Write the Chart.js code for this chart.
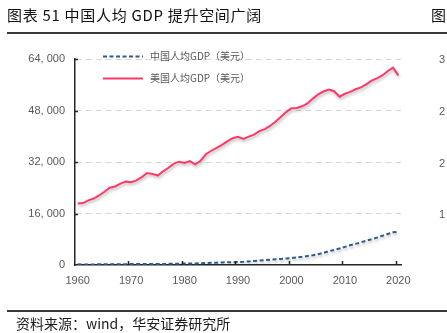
<!DOCTYPE html>
<html>
<head>
<meta charset="utf-8">
<script src="https://cdn.jsdelivr.net/npm/chart.js@4"></script>
<style>
  html, body { margin: 0; padding: 0; background: #fff; }
  #wrap { position: relative; width: 447px; height: 333px; overflow: hidden; }
  #c { position: absolute; left: 0; top: 0; }
  .txt { position: absolute; white-space: nowrap; font-family: "Noto Sans CJK SC", sans-serif; }
  #title { left: 7px; top: 5px; font-size: 15px; line-height: 20px; color: #111; font-weight: 400; letter-spacing: 0.7px; }
  #titleR { left: 431px; top: 5px; font-size: 15px; line-height: 20px; color: #111; font-weight: 400; }
  .rule { position: absolute; left: 7px; width: 440px; height: 1.5px; background: #3a3a3a; }
  #source { left: 16px; top: 314px; font-size: 14px; line-height: 18px; color: #1a1a1a; letter-spacing: 0px; }
  .side { position: absolute; left: 439px; font-family: "Liberation Sans", Arial, sans-serif; font-size: 11px; color: #595959; line-height: 12px; }
</style>
</head>
<body>
<div id="wrap">
  <canvas id="c" width="447" height="333"></canvas>
  <div class="txt" id="title">图表 51 中国人均 GDP 提升空间广阔</div>
  <div class="txt" id="titleR">图</div>
  <div class="rule" style="top:32px"></div>
  <div class="rule" style="top:310px"></div>
  <div class="txt" id="source">资料来源：wind，华安证券研究所</div>
  <div class="side" style="top:53px">3</div>
  <div class="side" style="top:105px">2</div>
  <div class="side" style="top:157px">2</div>
  <div class="side" style="top:208px">1</div>
</div>
<script>
// Per-capita GDP, US dollars, 1960-2020
const years = [
  1960,1961,1962,1963,1964,1965,1966,1967,1968,1969,
  1970,1971,1972,1973,1974,1975,1976,1977,1978,1979,
  1980,1981,1982,1983,1984,1985,1986,1987,1988,1989,
  1990,1991,1992,1993,1994,1995,1996,1997,1998,1999,
  2000,2001,2002,2003,2004,2005,2006,2007,2008,2009,
  2010,2011,2012,2013,2014,2015,2016,2017,2018,2019,
  2020
];
const chinaGdp = [
  238,173,164,178,204,233,252,231,214,244,
  285,297,301,319,321,340,330,349,384,408,
  434,450,483,528,600,672,721,793,868,889,
  909,979,1103,1239,1383,1516,1650,1784,1902,2027,
  2182,2345,2542,2779,3041,3366,3772,4290,4686,5104,
  5621,6126,6569,7044,7525,8016,8516,9053,9617,10144,
  10358
];
const usGdp = [
  19100,19250,20100,20650,21600,22750,24000,24400,25300,25900,
  25700,26300,27300,28600,28300,27800,29100,30200,31500,32100,
  31700,32300,31300,32400,34400,35500,36400,37300,38400,39400,
  39800,39200,39900,40500,41600,42200,43200,44500,46000,47500,
  48700,48800,49300,50200,51700,53000,53900,54500,54000,52300,
  53200,53800,54600,55200,56100,57300,58000,58900,60200,61300,
  58900
];
const yTickLabels = ['0', '16, 000', '32, 000', '48, 000', '64, 000'];
const seriesNames = ['中国人均GDP（美元）', '美国人均GDP（美元）'];

const CN_COLOR = '#2d5b8c';
const US_COLOR = '#ff3868';

// soft drop shadow under each line
const lineShadow = {
  id: 'lineShadow',
  beforeDatasetDraw(chart) {
    const ctx = chart.ctx;
    ctx.save();
    ctx.shadowColor = 'rgba(0,0,0,0.28)';
    ctx.shadowBlur = 3;
    ctx.shadowOffsetX = 1;
    ctx.shadowOffsetY = 2;
  },
  afterDatasetDraw(chart) {
    chart.ctx.restore();
  }
};

// short tick marks on the inner side of both axes
const innerTicks = {
  id: 'innerTicks',
  afterDraw(chart) {
    const { ctx, chartArea, scales } = chart;
    const xs = scales.x, ys = scales.y;
    ctx.save();
    ctx.strokeStyle = '#262626';
    ctx.lineWidth = 1.5;
    ctx.beginPath();
    years.forEach((yr, i) => {
      if (yr % 10 === 0 && i > 0) {
        const px = Math.round(xs.getPixelForValue(i) - xs.width / years.length / 2) + 0.5;
        ctx.moveTo(px, chartArea.bottom);
        ctx.lineTo(px, chartArea.bottom - 4);
      }
    });
    ys.ticks.forEach(t => {
      if (t.value === 0) return;
      const py = Math.round(ys.getPixelForValue(t.value)) + 0.5;
      ctx.moveTo(chartArea.left - 1, py);
      ctx.lineTo(chartArea.left + 3, py);
    });
    ctx.stroke();
    ctx.restore();
  }
};

// legend drawn inside the plot area
const innerLegend = {
  id: 'innerLegend',
  afterDraw(chart) {
    const ctx = chart.ctx;
    const rows = [56, 78];
    ctx.save();
    chart.data.datasets.forEach((ds, i) => {
      const y = rows[i] + 0.5;
      ctx.beginPath();
      ctx.strokeStyle = ds.borderColor;
      ctx.lineWidth = 2;
      ctx.setLineDash(ds.borderDash || []);
      ctx.moveTo(103, y);
      ctx.lineTo(143, y);
      ctx.stroke();
      ctx.setLineDash([]);
      ctx.fillStyle = '#595959';
      ctx.font = '10px "Noto Sans CJK SC", sans-serif';
      ctx.textBaseline = 'middle';
      ctx.fillText(ds.label, 150, y);
    });
    ctx.restore();
  }
};

new Chart(document.getElementById('c'), {
  type: 'line',
  data: {
    labels: years.map(String),
    datasets: [
      {
        label: seriesNames[0],
        data: chinaGdp,
        borderColor: CN_COLOR,
        borderWidth: 2,
        borderDash: [4, 2.5],
        pointRadius: 0,
        tension: 0,
        fill: false
      },
      {
        label: seriesNames[1],
        data: usGdp,
        borderColor: US_COLOR,
        borderWidth: 2,
        pointRadius: 0,
        tension: 0,
        fill: false
      }
    ]
  },
  options: {
    responsive: false,
    animation: false,
    devicePixelRatio: 1,
    layout: { padding: { left: 0, top: 59, right: 46, bottom: 0 } },
    plugins: {
      legend: { display: false },
      tooltip: { enabled: false }
    },
    scales: {
      x: {
        type: 'category',
        offset: true,
        grid: { color: 'rgba(0,0,0,0)', drawTicks: false, offset: true },
        border: { color: '#262626', width: 1.5 },
        ticks: {
          autoSkip: false,
          maxRotation: 0,
          padding: 9,
          color: '#595959',
          font: { family: '"Liberation Sans", Arial, sans-serif', size: 11 },
          callback(value, index) {
            const yr = years[index];
            return yr % 10 === 0 ? String(yr) : '';
          }
        },
        afterFit(scale) { scale.height = 68; }
      },
      y: {
        min: 0,
        max: 64000,
        grid: {
          drawTicks: false,
          color: ctx => (ctx.tick && ctx.tick.value === 0) ? 'rgba(0,0,0,0)' : '#d6d6d6',
          lineWidth: 1
        },
        border: { color: '#262626', width: 1.5, dash: [6, 4] },
        ticks: {
          stepSize: 16000,
          padding: 10,
          color: '#595959',
          font: { family: '"Liberation Sans", Arial, sans-serif', size: 11 },
          callback(value) {
            return yTickLabels[Math.round(value / 16000)];
          }
        },
        afterFit(scale) { scale.width = 75; }
      }
    }
  },
  plugins: [lineShadow, innerTicks, innerLegend]
});
</script>
</body>
</html>
